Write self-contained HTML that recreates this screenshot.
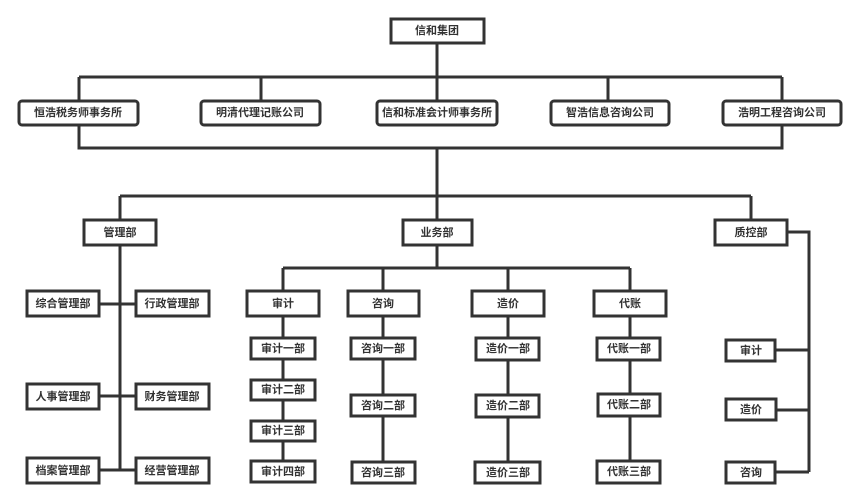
<!DOCTYPE html>
<html><head><meta charset="utf-8"><style>
body{margin:0;background:#fff}
svg{display:block}
text{font-family:"Liberation Sans","Noto Sans CJK SC",sans-serif;font-size:11px;font-weight:bold;fill:#333;text-anchor:middle;dominant-baseline:central}
</style></head><body>
<svg width="860" height="503" viewBox="0 0 860 503" xmlns="http://www.w3.org/2000/svg">
<g stroke="#333" stroke-width="3" fill="none">
<path d="M437 43V101M79 77H782M79 77V101M261 77V101M608 77V101M782 77V101"/>
<path d="M79 125V148H782V125M437 148V220M120 196H751M120 196V220M751 196V220"/>
<path d="M120 245V470M99 304H136M99 396H136M99 470H136"/>
<path d="M437 245V268M283 268H630M283 268V291M383 268V291M508 268V291M630 268V291"/>
<path d="M283 316V461M383 316V462M508 316V462M630 316V461"/>
<path d="M787 232H809V472M775 350H809M776 410H809M775 472H809"/>
</g>
<g stroke="#333" stroke-width="3" fill="#fff">
<rect x="391" y="19" width="93" height="24"/>
<rect x="19" y="101" width="119" height="24" rx="3"/>
<rect x="201" y="101" width="119" height="24" rx="3"/>
<rect x="377" y="101" width="120" height="24" rx="3"/>
<rect x="551" y="101" width="118" height="24" rx="3"/>
<rect x="723" y="101" width="118" height="24" rx="3"/>
<rect x="84" y="220" width="72" height="25"/>
<rect x="403" y="220" width="69" height="25"/>
<rect x="715" y="220" width="72" height="25"/>
<rect x="27" y="291" width="72" height="25"/>
<rect x="136" y="291" width="73" height="25"/>
<rect x="27" y="384" width="72" height="25"/>
<rect x="136" y="384" width="73" height="25"/>
<rect x="27" y="458" width="72" height="25"/>
<rect x="136" y="458" width="73" height="25"/>
<rect x="247" y="291" width="72" height="25"/>
<rect x="348" y="291" width="71" height="25"/>
<rect x="472" y="291" width="72" height="25"/>
<rect x="594" y="291" width="72" height="25"/>
<rect x="251" y="338" width="64" height="21"/>
<rect x="251" y="380" width="64" height="20"/>
<rect x="251" y="421" width="64" height="20"/>
<rect x="251" y="461" width="64" height="21"/>
<rect x="351" y="338" width="64" height="21"/>
<rect x="351" y="395" width="64" height="21"/>
<rect x="352" y="462" width="63" height="21"/>
<rect x="476" y="338" width="63" height="22"/>
<rect x="476" y="395" width="63" height="22"/>
<rect x="475" y="462" width="65" height="21"/>
<rect x="597" y="338" width="63" height="22"/>
<rect x="598" y="394" width="62" height="22"/>
<rect x="597" y="461" width="63" height="22"/>
<rect x="726" y="340" width="49" height="21"/>
<rect x="726" y="399" width="50" height="21"/>
<rect x="726" y="462" width="49" height="21"/>
</g>
<text x="437" y="31">信和集团</text>
<text x="78" y="113">恒浩税务师事务所</text>
<text x="260" y="113">明清代理记账公司</text>
<text x="437" y="113">信和标准会计师事务所</text>
<text x="610" y="113">智浩信息咨询公司</text>
<text x="782" y="113">浩明工程咨询公司</text>
<text x="120" y="233">管理部</text>
<text x="437" y="233">业务部</text>
<text x="751" y="233">质控部</text>
<text x="63" y="304">综合管理部</text>
<text x="172" y="304">行政管理部</text>
<text x="63" y="397">人事管理部</text>
<text x="172" y="397">财务管理部</text>
<text x="63" y="471">档案管理部</text>
<text x="172" y="471">经营管理部</text>
<text x="283" y="304">审计</text>
<text x="383" y="304">咨询</text>
<text x="508" y="304">造价</text>
<text x="630" y="304">代账</text>
<text x="283" y="349">审计一部</text>
<text x="283" y="390">审计二部</text>
<text x="283" y="431">审计三部</text>
<text x="283" y="472">审计四部</text>
<text x="383" y="349">咨询一部</text>
<text x="383" y="406">咨询二部</text>
<text x="383" y="473">咨询三部</text>
<text x="508" y="349">造价一部</text>
<text x="508" y="406">造价二部</text>
<text x="508" y="473">造价三部</text>
<text x="629" y="349">代账一部</text>
<text x="629" y="405">代账二部</text>
<text x="629" y="472">代账三部</text>
<text x="751" y="351">审计</text>
<text x="751" y="410">造价</text>
<text x="751" y="473">咨询</text>
</svg>
</body></html>
